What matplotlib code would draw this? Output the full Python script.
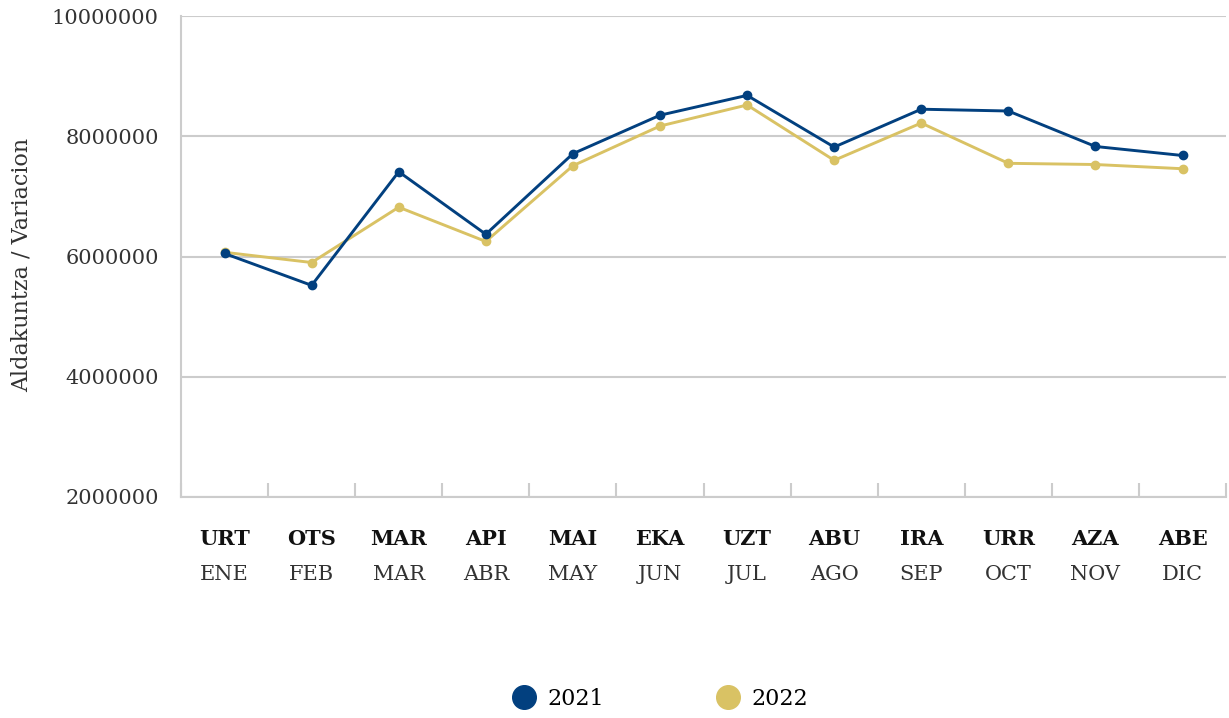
import matplotlib
matplotlib.use('Agg')
import matplotlib.pyplot as plt
from matplotlib.lines import Line2D
import numpy as np

plt.rcParams['font.family'] = ['Roboto Slab', 'DejaVu Serif']

months_eu = ['URT', 'OTS', 'MAR', 'API', 'MAI', 'EKA', 'UZT', 'ABU', 'IRA', 'URR', 'AZA', 'ABE']
months_es = ['ENE', 'FEB', 'MAR', 'ABR', 'MAY', 'JUN', 'JUL', 'AGO', 'SEP', 'OCT', 'NOV', 'DIC']

values_2021 = [6050000, 5520000, 7410000, 6370000, 7710000, 8350000, 8680000, 7820000, 8450000, 8420000, 7830000, 7680000]
values_2022 = [6070000, 5900000, 6820000, 6250000, 7510000, 8170000, 8520000, 7600000, 8220000, 7550000, 7530000, 7460000]

blue = '#02407f'
gold = '#d9c264'
grey = '#cccccc'

fig = plt.figure(figsize=(12.29, 7.18), dpi=100)
ax = fig.add_axes([0.1473, 0.3078, 0.8503, 0.6699])

x = np.arange(len(months_es))
ax.plot(x, values_2021, color=blue, lw=2.1, marker='o', ms=6, zorder=3)
ax.plot(x, values_2022, color=gold, lw=2.1, marker='o', ms=6, zorder=2)

ax.set_xlim(-0.5, len(months_es) - 0.5)
ax.set_ylim(2000000, 10000000)
ax.set_yticks(np.arange(2000000, 10000001, 2000000))
ax.set_yticklabels([str(v) for v in range(2000000, 10000001, 2000000)], fontsize=15, color='#333333')
ax.yaxis.grid(True, color=grey, lw=1.5)
ax.set_axisbelow(True)
ax.tick_params(axis='y', length=0, pad=16)

# category boundary ticks on the bottom axis
ax.set_xticks(np.arange(-0.5, len(months_es)), minor=True)
ax.set_xticks([])
ax.tick_params(axis='x', which='minor', length=10, width=1.5, color=grey, direction='in')
ax.xaxis.set_ticks_position('bottom')

for s in ['top', 'right']:
    ax.spines[s].set_visible(False)
for s in ['left', 'bottom']:
    ax.spines[s].set_color(grey)
    ax.spines[s].set_linewidth(1.5)

trans = ax.get_xaxis_transform()
for i in range(len(months_es)):
    ax.text(i, -0.087, months_eu[i], transform=trans, ha='center', va='center',
            fontsize=15, fontweight='bold', color='#111111')
    ax.text(i, -0.162, months_es[i], transform=trans, ha='center', va='center',
            fontsize=15, color='#333333')

fig.text(0.018, 0.631, 'Aldakuntza / Variacion', rotation=90, ha='center', va='center',
         fontsize=16, color='#333333')

handles = [Line2D([], [], ls='none', marker='o', ms=17, color=blue),
           Line2D([], [], ls='none', marker='o', ms=17, color=gold)]
fig.legend(handles, ['2021', '2022'], loc='center', bbox_to_anchor=(0.533, 0.027), ncol=2,
           frameon=False, fontsize=16, handletextpad=0.05, columnspacing=4.6)

fig.savefig('out.png', dpi=100)
